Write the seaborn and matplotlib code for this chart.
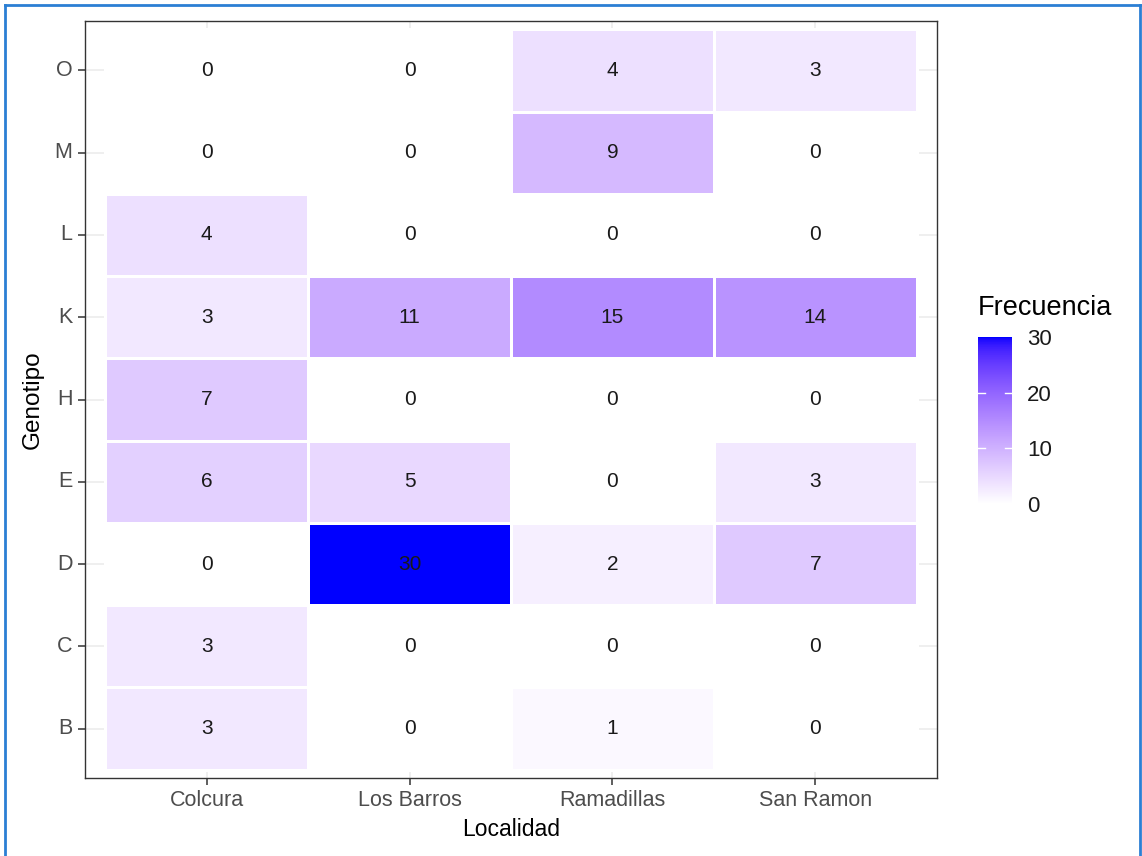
import numpy as np
import pandas as pd
import matplotlib
matplotlib.use("Agg")
import matplotlib.pyplot as plt
from matplotlib.colors import ListedColormap
from matplotlib.lines import Line2D
import seaborn as sns

# Frequency of each genotype per locality
localidades = ["Colcura", "Los Barros", "Ramadillas", "San Ramon"]
genotipos = ["O", "M", "L", "K", "H", "E", "D", "C", "B"]
colcura = [0, 0, 4, 3, 7, 6, 0, 3, 3]
los_barros = [0, 0, 0, 11, 0, 5, 30, 0, 0]
ramadillas = [4, 9, 0, 15, 0, 0, 2, 0, 1]
san_ramon = [3, 0, 0, 14, 0, 3, 7, 0, 0]
cbar_ticks = [0, 10, 20, 30]

df = pd.DataFrame(
    {"Colcura": colcura, "Los Barros": los_barros,
     "Ramadillas": ramadillas, "San Ramon": san_ramon},
    index=genotipos,
)[localidades]


# White -> blue gradient interpolated in CIE Lab space
def srgb_to_lab(rgb):
    rgb = np.asarray(rgb, float)
    lin = np.where(rgb <= 0.04045, rgb / 12.92, ((rgb + 0.055) / 1.055) ** 2.4)
    m = np.array([[0.4124564, 0.3575761, 0.1804375],
                  [0.2126729, 0.7151522, 0.0721750],
                  [0.0193339, 0.1191920, 0.9503041]])
    xyz = m @ lin
    white = np.array([0.95047, 1.0, 1.08883])
    t = xyz / white
    f = np.where(t > (6 / 29) ** 3, np.cbrt(t), t / (3 * (6 / 29) ** 2) + 4 / 29)
    return np.array([116 * f[1] - 16, 500 * (f[0] - f[1]), 200 * (f[1] - f[2])])


def lab_to_srgb(lab):
    L, a, b = lab
    fy = (L + 16) / 116
    fx = fy + a / 500
    fz = fy - b / 200
    f = np.array([fx, fy, fz])
    t = np.where(f > 6 / 29, f ** 3, 3 * (6 / 29) ** 2 * (f - 4 / 29))
    xyz = t * np.array([0.95047, 1.0, 1.08883])
    m = np.array([[3.2404542, -1.5371385, -0.4985314],
                  [-0.9692660, 1.8760108, 0.0415560],
                  [0.0556434, -0.2040259, 1.0572252]])
    lin = m @ xyz
    lin = np.clip(lin, 0, 1)
    rgb = np.where(lin <= 0.0031308, 12.92 * lin, 1.055 * lin ** (1 / 2.4) - 0.055)
    return np.clip(rgb, 0, 1)


lab_lo = srgb_to_lab([1, 1, 1])
lab_hi = srgb_to_lab([0, 0, 1])
cols = [lab_to_srgb(lab_lo + (lab_hi - lab_lo) * s) for s in np.linspace(0, 1, 256)]
cmap = ListedColormap(cols)

plt.rcParams["font.family"] = ["Liberation Sans", "DejaVu Sans"]

fig = plt.figure(figsize=(11.42, 8.56), dpi=100)
ax = fig.add_axes([85 / 1142, 1 - 778 / 856, (937 - 85) / 1142, (778 - 21) / 856])
cax = fig.add_axes([978 / 1142, 1 - 504 / 856, 34 / 1142, (504 - 337) / 856])

sns.heatmap(df, ax=ax, cmap=cmap, vmin=0, vmax=30, annot=True, fmt="d",
            annot_kws={"color": "#1a1a1a", "fontsize": 15},
            linewidths=0.8, linecolor="white", cbar_ax=cax,
            cbar_kws={"ticks": cbar_ticks})

# discrete-scale padding around the tiles
ax.set_xlim(-0.1, len(localidades) + 0.1)
ax.set_ylim(len(genotipos) + 0.1, -0.1)

ax.set_axisbelow(True)
ax.grid(True, color="#EBEBEB", linewidth=1.1)
for sp in ax.spines.values():
    sp.set_visible(True)
    sp.set_color("#333333")
    sp.set_linewidth(1.0)

ax.tick_params(axis="both", length=5, width=1.1, color="#333333",
               labelcolor="#4D4D4D", labelsize=15.5, pad=4)
ax.set_xticklabels(localidades, rotation=0)
ax.set_yticklabels(genotipos, rotation=0)
ax.set_xlabel("Localidad", fontsize=16.5, color="black", labelpad=5)
ax.set_ylabel("Genotipo", fontsize=17.5, color="black", labelpad=8)

# colour bar styled as a ggplot legend
cbar = ax.collections[0].colorbar
cbar.outline.set_visible(False)
cax.tick_params(length=0, labelsize=16, labelcolor="#1a1a1a", pad=11)
for v in cbar_ticks[1:-1]:
    cax.axhline(v, xmin=0, xmax=0.2, color="white", lw=1)
    cax.axhline(v, xmin=0.8, xmax=1, color="white", lw=1)
fig.text(978 / 1142, 1 - 308 / 856, "Frecuencia", fontsize=19.5,
         color="black", ha="left", va="center")

# thin blue frame around the figure
frame_c = "#2B7FD4"
fig.add_artist(Line2D([5 / 1142, 5 / 1142], [0, 1 - 5 / 856], color=frame_c, lw=2))
fig.add_artist(Line2D([5 / 1142, 1140 / 1142], [1 - 5 / 856, 1 - 5 / 856], color=frame_c, lw=2))
fig.add_artist(Line2D([1140 / 1142, 1140 / 1142], [0, 1 - 5 / 856], color=frame_c, lw=2))

fig.savefig("out.png", dpi=100, facecolor="white")
